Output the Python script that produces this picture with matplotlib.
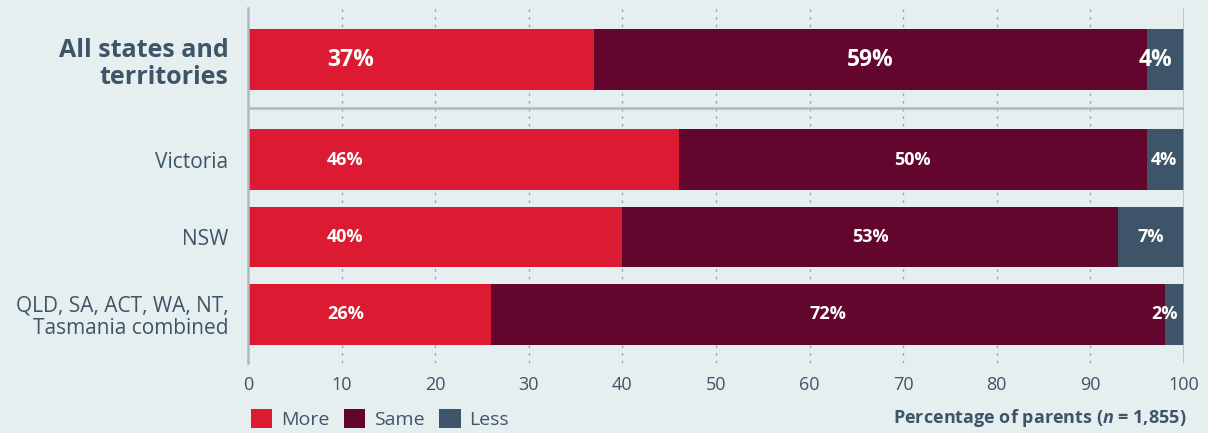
import matplotlib
matplotlib.use("Agg")
import matplotlib.pyplot as plt
from matplotlib.patches import Patch

plt.rcParams['font.family'] = ['Open Sans', 'DejaVu Sans']
plt.rcParams['mathtext.fontset'] = 'custom'
plt.rcParams['mathtext.rm'] = 'Open Sans'
plt.rcParams['mathtext.bf'] = 'Open Sans:bold'
plt.rcParams['mathtext.bfit'] = 'Open Sans:italic:bold'

# data
categories = ['All states and\nterritories', 'Victoria', 'NSW',
              'QLD, SA, ACT, WA, NT,\nTasmania combined']
more = [37, 46, 40, 26]
same = [59, 50, 53, 72]
less = [4, 4, 7, 2]
series_names = ['More', 'Same', 'Less']
xticks = [0, 10, 20, 30, 40, 50, 60, 70, 80, 90, 100]

colors = ['#DC1A32', '#62062E', '#3E5468']
bg = '#E6EFF0'
txt = '#3E5468'
line_c = '#A9BAC1'

# row positions (top row is separated by a gap)
ypos = [3.29, 2, 1, 0]
bar_h = 0.787

fig = plt.figure(figsize=(12.08, 4.33), dpi=100, facecolor=bg)
ax = fig.add_axes([248 / 1208, 1 - 363 / 433, 936 / 1208, 355 / 433])
ax.set_facecolor(bg)

for i, (m, s, l) in enumerate(zip(more, same, less)):
    lefts = [0, m, m + s]
    vals = [m, s, l]
    big = i == 0
    fs = 16.5 if big else 13
    for j, (lf, v) in enumerate(zip(lefts, vals)):
        ax.barh(ypos[i], v, left=lf, height=bar_h, color=colors[j], zorder=3)
        ha = 'center'
        cx = lf + v / 2
        if j == 0:
            # "More" labels sit at a fixed spot near the start of the bar
            cx, ha = 8.45, 'left'
        elif j == 2:
            cx = min(cx, 97.0 if big else 97.9)
        ax.text(cx, ypos[i], f'{v}%', ha=ha, va='center', color='white',
                fontsize=fs, fontweight='bold', zorder=4)

ax.set_xlim(0, 100)
ax.set_ylim(-0.626, 3.955)
ax.set_xticks(xticks)
ax.set_xticklabels([str(t) for t in xticks])
ax.tick_params(axis='x', length=0, pad=9, labelsize=13, labelcolor=txt)
ax.set_yticks(ypos)
ax.set_yticklabels(categories)
ax.tick_params(axis='y', length=0, pad=14, labelsize=15, labelcolor=txt)
for lbl in ax.get_yticklabels():
    lbl.set_linespacing(1.05)
top = ax.get_yticklabels()[0]
top.set_fontsize(18)
top.set_fontweight('bold')
top.set_linespacing(1.15)

for x in xticks[1:-1]:
    ax.axvline(x, color='#9BA8AE', lw=1, ls=(0, (2, 3.5)), zorder=1)
ax.axvline(100, color=line_c, lw=1.8, zorder=5)
ax.axhline(2.665, color=line_c, lw=1.8, zorder=2)

for side in ['top', 'right', 'bottom']:
    ax.spines[side].set_visible(False)
ax.spines['left'].set_color(line_c)
ax.spines['left'].set_linewidth(1.8)
ax.spines['left'].set_zorder(5)

handles = [Patch(facecolor=c, edgecolor='none') for c in colors]
fig.legend(handles, series_names, loc='lower left',
           bbox_to_anchor=(239 / 1208, -0.018), ncol=3, frameon=False,
           fontsize=14, labelcolor=txt, handlelength=1.1, handleheight=1.1,
           handletextpad=0.45, columnspacing=0.75, borderaxespad=0.2)

fig.text(1186 / 1208, 1 - 418 / 433, r'Percentage of parents ($\mathbfit{n}$ = 1,855)',
         ha='right', va='center', fontsize=13, fontweight='bold', color=txt)

fig.savefig('out.png', dpi=100, facecolor=bg)
